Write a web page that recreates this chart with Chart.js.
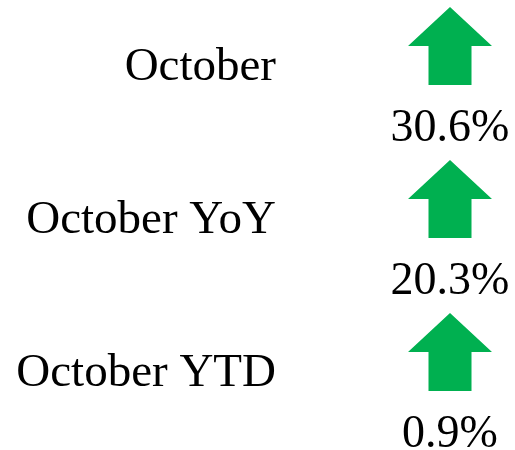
<!DOCTYPE html>
<html>
<head>
<meta charset="utf-8">
<script src="https://cdn.jsdelivr.net/npm/chart.js@4/dist/chart.umd.min.js"></script>
<style>
  body { margin: 0; background: #fff; }
  #wrap { width: 515px; height: 450px; }
</style>
</head>
<body>
<div id="wrap"><canvas id="kpi"></canvas></div>
<script>
var categories = ['October', 'October YoY', 'October YTD'];
var changes = [30.6, 20.3, 0.9];
var column = ['Change'];

var arrowGreen = '#00b050';
var arrowRed = '#c00000';

// draws the arrow + percent under each point
var arrowPlugin = {
    id: 'arrows',
    afterDatasetsDraw: function(chart){
        var ctx = chart.ctx;
        var meta = chart.getDatasetMeta(0);
        meta.data.forEach(function(pt, i){
            var v = changes[i];
            var x = pt.x, y = pt.y;
            var up = v >= 0;
            ctx.save();
            ctx.fillStyle = up ? arrowGreen : arrowRed;
            ctx.beginPath();
            if(up){
                ctx.moveTo(x, y - 61);
                ctx.lineTo(x + 42, y - 22);
                ctx.lineTo(x + 21.5, y - 22);
                ctx.lineTo(x + 21.5, y + 17);
                ctx.lineTo(x - 21.5, y + 17);
                ctx.lineTo(x - 21.5, y - 22);
                ctx.lineTo(x - 42, y - 22);
            }else{
                ctx.moveTo(x, y + 17);
                ctx.lineTo(x + 42, y - 22);
                ctx.lineTo(x + 21.5, y - 22);
                ctx.lineTo(x + 21.5, y - 61);
                ctx.lineTo(x - 21.5, y - 61);
                ctx.lineTo(x - 21.5, y - 22);
                ctx.lineTo(x - 42, y - 22);
            }
            ctx.closePath();
            ctx.fill();
            ctx.fillStyle = '#000';
            ctx.font = '46px "Liberation Serif"';
            ctx.textAlign = 'center';
            ctx.textBaseline = 'alphabetic';
            ctx.fillText(v.toFixed(1) + '%', x, y + 73);
            ctx.restore();
        });
    }
};

var chart = new Chart(document.getElementById('kpi'), {
    type: 'line',
    data: {
        datasets: [{
            data: categories.map(function(c){ return {x: column[0], y: c}; }),
            showLine: false,
            pointRadius: 0,
            pointHoverRadius: 0
        }]
    },
    options: {
        responsive: true,
        maintainAspectRatio: false,
        animation: false,
        events: [],
        layout: { padding: { top: 68, bottom: 76, left: 0, right: 5 } },
        plugins: { legend: { display: false }, tooltip: { enabled: false } },
        scales: {
            x: { type: 'category', labels: column, offset: true, display: false },
            y: {
                type: 'category',
                labels: categories,
                offset: false,
                grid: { display: false, drawTicks: false },
                border: { display: false },
                ticks: {
                    color: '#000',
                    padding: 114,
                    font: { family: 'Liberation Serif', size: 47 }
                },
                afterFit: function(scale){
                    scale.width = 390;
                    scale.paddingTop = 0;
                    scale.paddingBottom = 0;
                }
            }
        }
    },
    plugins: [arrowPlugin]
});
</script>
</body>
</html>
